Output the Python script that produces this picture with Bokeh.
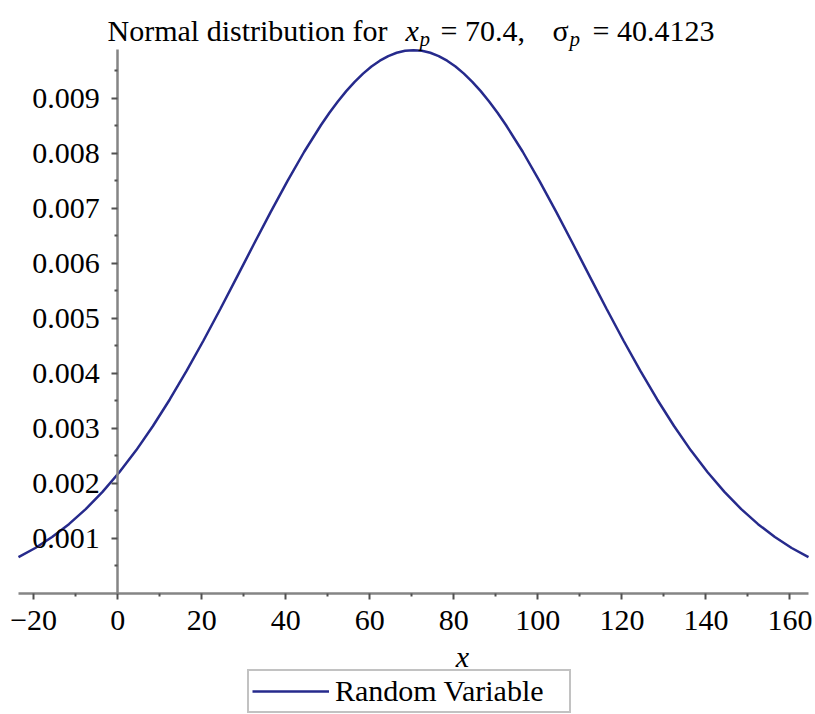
from bokeh.plotting import figure
from bokeh.models import LinearAxis, FixedTicker, Label, Legend, LegendItem, Range1d
from bokeh.embed import file_html
from bokeh.resources import INLINE

# Normal density, mean 70.4 and sd 40.4123 (denser samples around the peak)
x_vals = [-23.6, -19.6, -15.6, -11.6, -7.6, -3.6, 0.4, 4.4, 8.4, 12.4, 16.4, 20.4,
          24.4, 28.4, 32.4, 36.4, 40.4, 44.4, 48.4, 50.4, 52.4, 54.4, 56.4, 58.4,
          60.4, 62.4, 64.4, 66.4, 68.4, 70.4, 72.4, 74.4, 76.4, 78.4, 80.4, 82.4,
          84.4, 86.4, 88.4, 90.4, 92.4, 96.4, 100.4, 104.4, 108.4, 112.4, 116.4,
          120.4, 124.4, 128.4, 132.4, 136.4, 140.4, 144.4, 148.4, 152.4, 156.4, 160.4, 164.4]
density = [0.000660, 0.000827, 0.001026, 0.001260, 0.001533, 0.001846, 0.002202, 0.002601,
           0.003043, 0.003525, 0.004043, 0.004592, 0.005165, 0.005752, 0.006345, 0.006929,
           0.007494, 0.008026, 0.008512, 0.008734, 0.008940, 0.009128, 0.009297, 0.009446,
           0.009574, 0.009680, 0.009764, 0.009824, 0.009860, 0.009872, 0.009860, 0.009824,
           0.009764, 0.009680, 0.009574, 0.009446, 0.009297, 0.009128, 0.008940, 0.008734,
           0.008512, 0.008026, 0.007494, 0.006929, 0.006345, 0.005752, 0.005165, 0.004592,
           0.004043, 0.003525, 0.003043, 0.002601, 0.002202, 0.001846, 0.001533, 0.001260,
           0.001026, 0.000827, 0.000660]

x_ticks = [-20, 0, 20, 40, 60, 80, 100, 120, 140, 160]
x_tick_labels = ["\u221220", "0", "20", "40", "60", "80", "100", "120", "140", "160"]
x_minor = [-10, 10, 30, 50, 70, 90, 110, 130, 150]
y_ticks = [0.001, 0.002, 0.003, 0.004, 0.005, 0.006, 0.007, 0.008, 0.009]
y_tick_labels = ["0.001", "0.002", "0.003", "0.004", "0.005", "0.006", "0.007", "0.008", "0.009"]
y_minor = [0.0005, 0.0015, 0.0025, 0.0035, 0.0045, 0.0055, 0.0065, 0.0075, 0.0085, 0.0095]

SERIF = "Liberation Serif"
FS = "30px"
AXIS_GRAY = "#858585"
TICK_GRAY = "#505050"
CURVE = "#262a8c"
W, H = 815, 714

# the frame fills the canvas; both axes sit at fixed data locations
p = figure(width=W, height=H, title=None,
           x_range=Range1d(-27.88, 166.07), y_range=Range1d(-0.0021984, 0.010774),
           output_backend="svg", toolbar_location=None,
           x_axis_location=None, y_axis_location=None,
           min_border_left=0, min_border_right=0, min_border_top=0, min_border_bottom=0)
p.outline_line_color = None
p.grid.visible = False
p.background_fill_color = "white"
p.border_fill_color = "white"


def style_axis(ax, standoff):
    ax.axis_line_color = AXIS_GRAY
    ax.axis_line_width = 2.5
    ax.major_tick_line_color = TICK_GRAY
    ax.minor_tick_line_color = TICK_GRAY
    ax.major_tick_line_width = 2
    ax.minor_tick_line_width = 2
    ax.major_tick_in = 0
    ax.major_tick_out = 6
    ax.minor_tick_in = 0
    ax.minor_tick_out = 3
    ax.major_label_standoff = standoff
    ax.major_label_text_font = SERIF
    ax.major_label_text_font_size = FS
    ax.major_label_text_color = "black"


xa = LinearAxis(fixed_location=0, bounds=(-23.6, 164.4),
                ticker=FixedTicker(ticks=x_ticks, minor_ticks=x_minor))
xa.major_label_overrides = dict(zip(x_ticks, x_tick_labels))
style_axis(xa, 11)
p.add_layout(xa, "below")

ya = LinearAxis(fixed_location=0, bounds=(0, 0.00988),
                ticker=FixedTicker(ticks=y_ticks, minor_ticks=y_minor))
ya.major_label_overrides = dict(zip(y_ticks, y_tick_labels))
style_axis(ya, 12)
p.add_layout(ya, "left")

curve = p.line(x_vals, density, line_color=CURVE, line_width=2.5)


# text placed at canvas pixels (from top-left)
def txt(s, x, y, size=FS, style="normal", baseline="alphabetic", align="left"):
    p.add_layout(Label(x=x, y=H - y, x_units="screen", y_units="screen", text=s,
                       text_font=SERIF, text_font_size=size, text_font_style=style,
                       text_color="black", text_baseline=baseline, text_align=align))


TB = 30
SUB = "21px"
txt("Normal distribution for", 107, TB)
txt("x", 405, TB, style="italic")
txt("p", 419, TB + 8, size=SUB, style="italic")
txt("= 70.4,", 440, TB)
txt("\u03c3", 552, TB)
txt("p", 569, TB + 8, size=SUB, style="italic")
txt("= 40.4123", 592, TB)

# axis label
txt("x", 462, 656, style="italic", baseline="middle", align="center")

legend = Legend(items=[LegendItem(label="Random Variable", renderers=[curve])],
                location=(247, H - 713))
legend.border_line_color = AXIS_GRAY
legend.border_line_width = 2.5
legend.background_fill_color = "white"
legend.background_fill_alpha = 1
legend.padding = 3
legend.spacing = 0
legend.margin = 0
legend.glyph_width = 77
legend.glyph_height = 16
legend.label_standoff = 6
legend.label_width = 231
legend.label_height = 16
legend.label_text_font = SERIF
legend.label_text_font_size = FS
legend.label_text_color = "black"
p.add_layout(legend, "center")

open("out.html", "w").write(file_html(p, INLINE))
